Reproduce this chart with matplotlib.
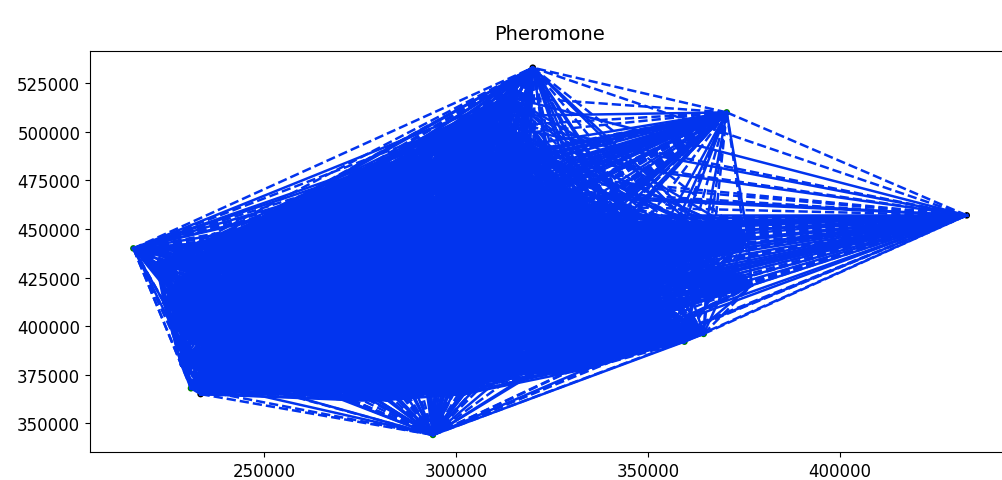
'''
Pheromone trails between all the cities
'''

import matplotlib
matplotlib.use('Agg')
import matplotlib.pyplot as plt

# City coordinates
CORNER_X = [216000, 231000, 233500, 294000, 359500, 364500, 433000, 370500, 320000]
CORNER_Y = [440000, 368000, 365000, 344000, 392000, 396000, 457000, 510000, 533000]
RIGHT_X = [348000, 356000, 366000, 376000, 377000, 352000, 345000, 334000, 355000]
RIGHT_Y = [450000, 447000, 448000, 446000, 421000, 414000, 386000, 378000, 400000]
MIDDLE_X = [226000, 235000, 241000, 246000, 250000, 256000, 262000, 270000, 275000,
            281000, 286000, 290000, 296000, 300000, 305000, 311000, 316000, 318000,
            316000, 328000, 322000, 312000, 300000, 312000, 325000, 335000,
            222000, 228000, 229000, 238000, 244000, 252000, 262000, 272000, 284000,
            296000, 306000, 314000, 236000, 248000, 260000, 272000, 282000, 302000,
            298000, 310000, 305000, 318000, 292000, 280000, 268000, 255000, 304000,
            316000, 330000, 340000, 336000, 272000, 290000, 310000, 320000,
            225500, 228500, 224000]
MIDDLE_Y = [420000, 394000, 410000, 385000, 430000, 375000, 395000, 410000, 440000,
            385000, 367000, 420000, 450000, 400000, 375000, 430000, 455000, 410000,
            392000, 440000, 425000, 415000, 482000, 503000, 470000, 455000,
            432000, 415000, 395000, 443000, 450000, 457000, 465000, 472000, 482000,
            495000, 508000, 518000, 370000, 369000, 370000, 368000, 362000, 365000,
            375000, 395000, 420000, 450000, 455000, 450000, 450000, 440000, 440000,
            448000, 445000, 445000, 452000, 362000, 440000, 470000, 490000,
            402000, 380000, 412000]
BLACK_CITIES = [2, 6, 8]

# Outer trails drawn dashed, all the others alternate
HULL_PAIRS = [(8, 7), (7, 6), (0, 8), (0, 1), (2, 3), (3, 6), (5, 6), (4, 6)]

LINE_COLOR = '#0234EE'
TITLE = 'Pheromone'


def main():
    city_x = CORNER_X + RIGHT_X + MIDDLE_X
    city_y = CORNER_Y + RIGHT_Y + MIDDLE_Y

    fig = plt.figure(figsize=(10.03, 4.81), dpi=100)
    ax = fig.add_axes([90 / 1003, 1 - 453 / 481, 918 / 1003, 401 / 481])

    colors = ['black' if i in BLACK_CITIES else 'green' for i in range(len(CORNER_X))]
    ax.scatter(CORNER_X, CORNER_Y, c=colors, s=14, zorder=1)

    for i in range(len(city_x)):
        for j in range(i + 1, len(city_x)):
            dashed = (i, j) in HULL_PAIRS or (j, i) in HULL_PAIRS or (i + j) % 2 == 0
            ax.plot([city_x[i], city_x[j]], [city_y[i], city_y[j]],
                    color=LINE_COLOR, linewidth=1.8, zorder=2,
                    linestyle='--' if dashed else '-')

    ax.set_xlim(204700, 443750)
    ax.set_ylim(335200, 541600)
    ax.set_xticks([250000, 300000, 350000, 400000])
    ax.set_yticks([350000, 375000, 400000, 425000, 450000, 475000, 500000, 525000])
    ax.tick_params(labelsize=12)
    ax.set_title(TITLE, fontsize=14, pad=8.5)

    plt.savefig('out.png', dpi=100)
    plt.close()


if __name__ == '__main__':
    main()
